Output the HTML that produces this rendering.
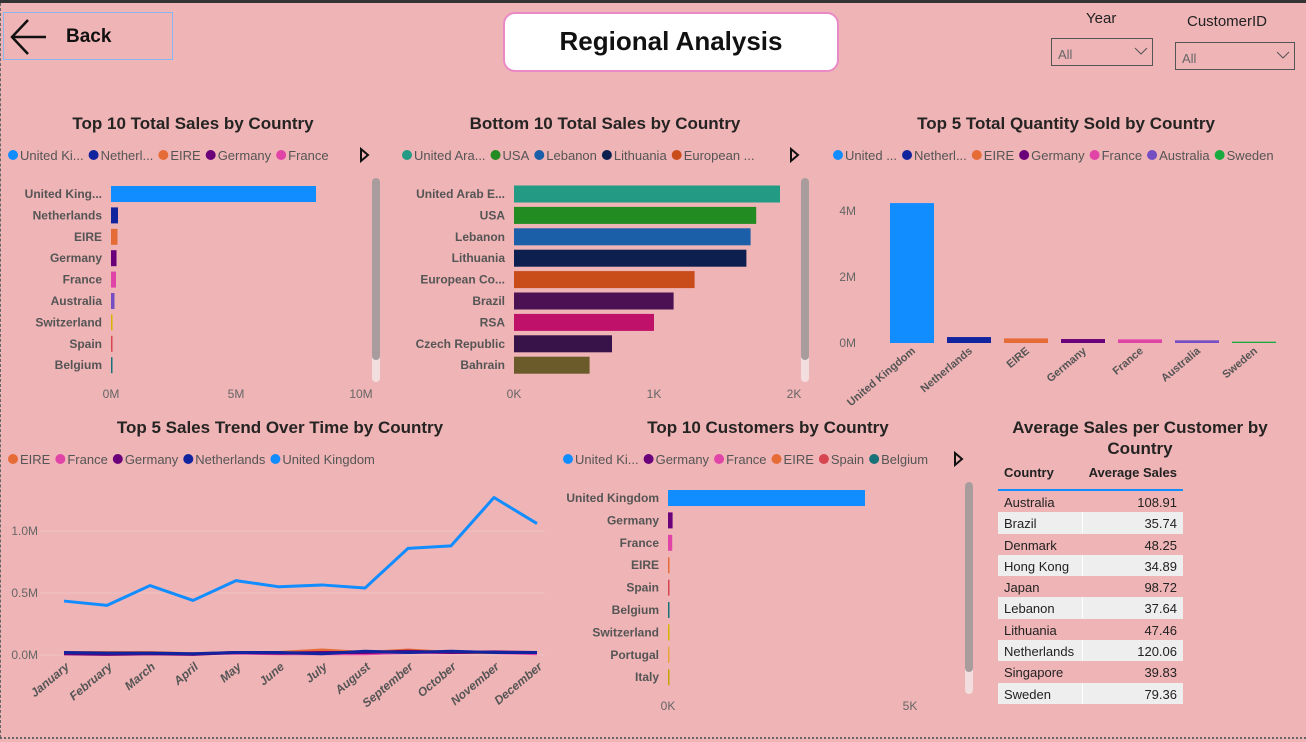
<!DOCTYPE html>
<html><head><meta charset="utf-8"><style>
body{margin:0;width:1306px;height:742px;overflow:hidden;background:#efb4b6;font-family:"Liberation Sans",sans-serif;position:relative}
.a{position:absolute}
.t{position:absolute;font-weight:bold;font-size:17px;color:#252423;text-align:center}
svg{position:absolute;left:0;top:0}
</style></head><body>
<div class="a" style="left:0;top:0;width:1306px;height:3px;background:#333"></div>
<div class="a" style="left:0;top:3px;height:735px;border-left:1px dashed #666"></div>
<div class="a" style="left:0;top:737px;width:1306px;border-top:2px dotted #666"></div>
<div class="a" style="left:3px;top:12px;width:168px;height:46px;border:1px solid #8ab8ee">
<svg width="44" height="44" style="left:4px;top:2px"><path d="M38 22H4M20 5L4 22L20 39" stroke="#111" stroke-width="2.5" fill="none"/></svg>
<span class="a" style="left:62px;top:13px;font-weight:bold;font-size:19px;color:#111">Back</span></div>
<div class="a" style="left:503px;top:12px;width:332px;height:56px;background:#fff;border:2px solid #e98ac6;border-radius:12px;text-align:center;line-height:54px;font-weight:bold;font-size:26px;color:#111">Regional Analysis</div>
<div class="a" style="left:1086px;top:10px;font-size:15px;color:#222">Year</div>
<div class="a" style="left:1051px;top:38px;width:100px;height:26px;border:1px solid #555;font-size:13px;color:#666"><span class="a" style="left:6px;top:8px">All</span><svg width="14" height="10" style="left:82px;top:7px"><path d="M1 2L7 8L13 2" stroke="#555" fill="none"/></svg></div>
<div class="a" style="left:1187px;top:13px;font-size:15px;color:#222">CustomerID</div>
<div class="a" style="left:1175px;top:42px;width:118px;height:26px;border:1px solid #555;font-size:13px;color:#666"><span class="a" style="left:6px;top:8px">All</span><svg width="14" height="10" style="left:100px;top:7px"><path d="M1 2L7 8L13 2" stroke="#555" fill="none"/></svg></div>

<div class="t" style="left:43px;top:114px;width:300px">Top 10 Total Sales by Country</div>
<div class="t" style="left:455px;top:114px;width:300px">Bottom 10 Total Sales by Country</div>
<div class="t" style="left:900px;top:114px;width:332px">Top 5 Total Quantity Sold by Country</div>
<div class="t" style="left:80px;top:418px;width:400px">Top 5 Sales Trend Over Time by Country</div>
<div class="t" style="left:618px;top:418px;width:300px">Top 10 Customers by Country</div>
<div class="t" style="left:1000px;top:417px;width:280px;line-height:21px">Average Sales per Customer by Country</div>

<svg id="s" width="1306" height="742"></svg>
<div id="tbl" class="a" style="left:998px;top:462px;width:185px;font-size:13px;color:#222"></div>

<script>
const c1Cats=["United King...","Netherlands","EIRE","Germany","France","Australia","Switzerland","Spain","Belgium"];
const c1Vals=[8.2,0.28,0.26,0.22,0.2,0.14,0.05,0.05,0.04];
const c1Cols=["#118dff","#12239e","#e66c37","#6b007b","#e044a7","#744ec2","#d9b300","#d64550","#197278"];
const c1Ticks=["0M","5M","10M"];
const c2Cats=["United Arab E...","USA","Lebanon","Lithuania","European Co...","Brazil","RSA","Czech Republic","Bahrain"];
const c2Vals=[1.9,1.73,1.69,1.66,1.29,1.14,1.0,0.7,0.54];
const c2Cols=["#229a84","#228b22","#1a5fa8","#0d1f4f","#c84d1a","#4b1152","#c0116a","#38134a","#6b5a2a"];
const c2Ticks=["0K","1K","2K"];
const c3Cats=["United Kingdom","Netherlands","EIRE","Germany","France","Australia","Sweden"];
const c3Vals=[4.24,0.18,0.14,0.12,0.11,0.08,0.04];
const c3Cols=["#118dff","#12239e","#e66c37","#6b007b","#e044a7","#744ec2","#1aab40"];
const c3Ticks=["0M","2M","4M"];
const months=["January","February","March","April","May","June","July","August","September","October","November","December"];
const ukVals=[0.435,0.4,0.56,0.44,0.6,0.55,0.565,0.54,0.86,0.88,1.27,1.06];
const nlVals=[0.02,0.015,0.015,0.01,0.02,0.02,0.01,0.03,0.02,0.03,0.02,0.02];
const deVals=[0.01,0.005,0.01,0.005,0.02,0.015,0.02,0.02,0.03,0.02,0.025,0.02];
const eireVals=[0.02,0.02,0.02,0.01,0.02,0.02,0.04,0.02,0.04,0.02,0.02,0.02];
const frVals=[0.01,0.01,0.01,0.01,0.015,0.01,0.01,0.01,0.02,0.02,0.02,0.01];
const c4Ticks=["0.0M","0.5M","1.0M"];
const c5Cats=["United Kingdom","Germany","France","EIRE","Spain","Belgium","Switzerland","Portugal","Italy"];
const c5Vals=[4.07,0.095,0.087,0.03,0.03,0.025,0.02,0.02,0.015];
const c5Cols=["#118dff","#6b007b","#e044a7","#e66c37","#d64550","#197278","#d9b300","#e8a33a","#c8a000"];
const c5Ticks=["0K","5K"];
const tCountries=["Australia","Brazil","Denmark","Hong Kong","Japan","Lebanon","Lithuania","Netherlands","Singapore","Sweden"];
const tVals=["108.91","35.74","48.25","34.89","98.72","37.64","47.46","120.06","39.83","79.36"];

const s=document.getElementById('s');const NS="http://www.w3.org/2000/svg";
function mk(tag,at,txt){const e=document.createElementNS(NS,tag);for(const k in at)e.setAttribute(k,at[k]);if(txt!==undefined)e.textContent=txt;s.appendChild(e);return e;}
function legend(x,y,names,cols,arrow){let cx=x;names.forEach((n,i)=>{const d=mk('circle',{cx:cx+5,cy:y,r:5,fill:cols[i]});


const t=mk('text',{x:cx+12,y:y+5,'font-size':13,fill:'#555'},n);


cx+=12+t.getComputedTextLength()+5;});
if(arrow){const a=mk('path',{d:`M${arrow} ${y-6}L${arrow+7} ${y}L${arrow} ${y+6}Z`,fill:'none',stroke:'#111','stroke-width':2});

}}
function scroll(x,y1,y2,th){mk('rect',{x:x,y:y1,width:8,height:y2-y1,rx:4,fill:'#f2dede'});const r=mk('rect',{x:x,y:y1,width:8,height:th,rx:4,fill:'#a89c9c'});

}
function hbar(cats,vals,cols,ticks,tickMax,x0,x1,y0,step,lblX,axisY,bh){
 const sx=v=>x0+v/tickMax*(x1-x0);
 cats.forEach((c,i)=>{const cy=y0+i*step;
 const l=mk('text',{x:lblX,y:cy+4,'font-size':12,'font-weight':'bold',fill:'#555','text-anchor':'end'},c);
 
 
 const b=mk('rect',{x:x0,y:cy-bh/2,width:Math.max(1.5,sx(vals[i])-x0),height:bh,fill:cols[i]});
 
 });
 ticks.forEach((t,i)=>{const e=mk('text',{x:x0+i*(x1-x0)/(ticks.length-1),y:axisY,'font-size':12,fill:'#666','text-anchor':'middle'},t);
 
 });}

legend(8,155,["United Ki...","Netherl...","EIRE","Germany","France"],c1Cols,361);
hbar(c1Cats,c1Vals,c1Cols,c1Ticks,10,111,361,194,21.4,102,398,16);
scroll(372,178,382,182);
legend(402,155,["United Ara...","USA","Lebanon","Lithuania","European ..."],c2Cols,791);
hbar(c2Cats,c2Vals,c2Cols,c2Ticks,2,514,794,194,21.4,505,398,17);
scroll(801,178,382,182);
legend(833,155,["United ...","Netherl...","EIRE","Germany","France","Australia","Sweden"],c3Cols,0);
(function(){const y0=343,k=33,bx=890,st=57,bw=44;
c3Ticks.forEach((t,i)=>{const e=mk('text',{x:856,y:y0-i*2*k+4,'font-size':12,fill:'#666','text-anchor':'end'},t);

});
c3Cats.forEach((c,i)=>{const h=c3Vals[i]*k;const b=mk('rect',{x:bx+i*st,y:y0-h,width:bw,height:Math.max(h,1),fill:c3Cols[i]});


const cx=bx+i*st+bw/2+4;const l=mk('text',{x:cx,y:352,'font-size':11,'font-weight':'bold',fill:'#555','text-anchor':'end',transform:`rotate(-40 ${cx} 352)`},c);

});})();
legend(8,459,["EIRE","France","Germany","Netherlands","United Kingdom"],["#e66c37","#e044a7","#6b007b","#12239e","#118dff"],0);
(function(){const y0=655,k=124,x0=64,st=43;
c4Ticks.forEach((t,i)=>{const y=y0-i*0.5*k;mk('line',{x1:40,x2:545,y1:y,y2:y,stroke:'#f0c2c3','stroke-width':1});
const e=mk('text',{x:38,y:y+4,'font-size':12,fill:'#666','text-anchor':'end'},t);

});
const pts=v=>v.map((d,i)=>`${x0+i*st},${y0-d*k}`).join(' ');
[[frVals,'#e044a7'],[eireVals,'#e66c37'],[deVals,'#6b007b'],[nlVals,'#12239e'],[ukVals,'#118dff']].forEach(([v,c])=>{
const p=mk('polyline',{points:pts(v),fill:'none',stroke:c,'stroke-width':3,'stroke-linejoin':'round'});

});
months.forEach((m,i)=>{const x=x0+i*st+6;const e=mk('text',{x:x,y:668,'font-size':12,'font-weight':'bold','font-style':'italic',fill:'#555','text-anchor':'end',transform:`rotate(-40 ${x} 668)`},m);

});})();
legend(563,459,["United Ki...","Germany","France","EIRE","Spain","Belgium"],c5Cols,955);
hbar(c5Cats,c5Vals,c5Cols,c5Ticks,5,668,910,498,22.4,659,710,16);
scroll(965,482,694,190);
(function(){const d=document.getElementById('tbl');
let h='<div style="height:27px;border-bottom:2px solid #118dff;font-weight:bold;position:relative"><span class="a" style="left:6px;top:3px">Country</span><span class="a" style="right:6px;top:3px">Average Sales</span></div>';
tCountries.forEach((c,i)=>{h+=`<div style="height:21.3px;position:relative;background:${i%2?'#eeeeee':'transparent'}"><span class="a" style="left:6px;top:4px">${c}</span>${i%2?'<span class="a" style="left:84px;top:0;height:21px;border-left:1px solid #fff"></span>':''}<span class="a" style="right:6px;top:4px">${tVals[i]}</span></div>`;});
d.innerHTML=h;})();
</script>
</body></html>
